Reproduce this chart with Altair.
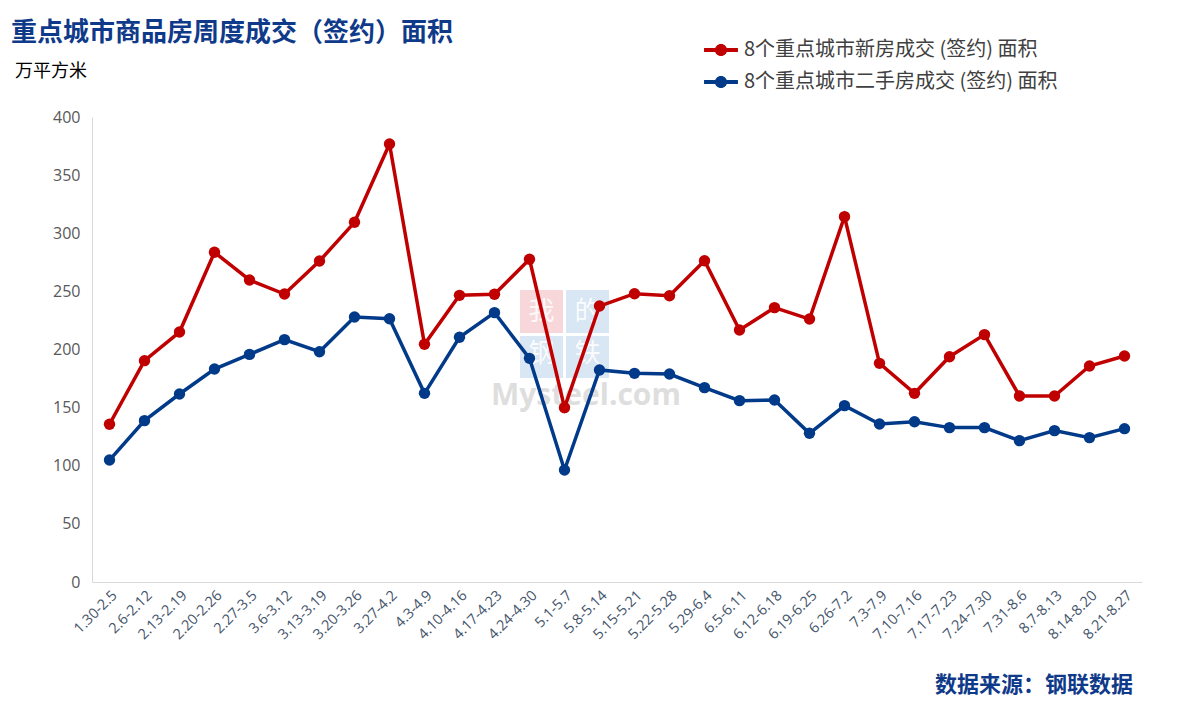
import altair as alt
import pandas as pd

weeks = ["1.30-2.5", "2.6-2.12", "2.13-2.19", "2.20-2.26", "2.27-3.5", "3.6-3.12",
         "3.13-3.19", "3.20-3.26", "3.27-4.2", "4.3-4.9", "4.10-4.16", "4.17-4.23",
         "4.24-4.30", "5.1-5.7", "5.8-5.14", "5.15-5.21", "5.22-5.28", "5.29-6.4",
         "6.5-6.11", "6.12-6.18", "6.19-6.25", "6.26-7.2", "7.3-7.9", "7.10-7.16",
         "7.17-7.23", "7.24-7.30", "7.31-8.6", "8.7-8.13", "8.14-8.20", "8.21-8.27"]

new_home = [135.7, 190.4, 215, 283.6, 259.8, 247.7, 276.1, 309.4, 376.8, 204.5,
            246.6, 247.5, 277.6, 150, 237.4, 248, 246.3, 276.4, 216.8, 236,
            226.2, 314.3, 188.1, 162.3, 193.8, 212.8, 160, 160, 185.8, 194.4]

second_home = [104.9, 138.8, 161.7, 183.2, 195.8, 208.5, 198.1, 228, 226.5, 162.3,
               210.5, 231.7, 192.4, 96.3, 182.4, 179.5, 178.9, 167.2, 156, 156.6,
               127.9, 151.7, 135.9, 137.9, 132.8, 132.8, 121.6, 130.2, 124.2, 131.9]

series_new = "8个重点城市新房成交 (签约) 面积"
series_second = "8个重点城市二手房成交 (签约) 面积"

title_text = "重点城市商品房周度成交（签约）面积"
unit_text = "万平方米"
source_text = "数据来源：钢联数据"
wm_chars = ["我", "的", "钢", "铁"]

df = pd.DataFrame({
    "week": weeks + weeks,
    "value": new_home + second_home,
    "series": [series_new] * len(weeks) + [series_second] * len(weeks),
})

CJK = "Noto Sans CJK SC"
NAVY = "#0F3A8A"

legend_path = ("M-1,-0.12L1,-0.12L1,0.12L-1,0.12Z "
               "M0.36,0A0.36,0.36,0,1,1,-0.36,0A0.36,0.36,0,1,1,0.36,0Z")

color = alt.Color(
    "series:N",
    scale=alt.Scale(domain=[series_new, series_second], range=["#C00000", "#023A8A"]),
    legend=alt.Legend(
        title=None, orient="none", legendX=612, legendY=-84,
        symbolType=legend_path, symbolSize=1150, symbolStrokeWidth=0,
        labelFont=CJK, labelFontSize=20, labelColor="#404040",
        labelLimit=500, rowPadding=5, labelOffset=6,
    ),
)

x = alt.X(
    "week:N", sort=weeks, title=None,
    scale=alt.Scale(type="point", padding=0.5),
    axis=alt.Axis(labelAngle=-45, labelFontSize=14.5, labelColor="#44546A",
                  labelFont="Open Sans", ticks=False, domainColor="#D9D9D9",
                  labelPadding=6),
)
y = alt.Y(
    "value:Q", title=None,
    scale=alt.Scale(domain=[0, 400]),
    axis=alt.Axis(values=list(range(0, 401, 50)), grid=False, ticks=False,
                  labelFontSize=16, labelColor="#595959", labelFont="Open Sans",
                  domainColor="#D9D9D9", labelPadding=12),
)

base = alt.Chart(df).encode(x=x, y=y, color=color)
lines = base.mark_line(strokeWidth=3.5)
points = base.mark_point(filled=True, size=130, opacity=1)

deco = pd.DataFrame({"k": [0]})
title = alt.Chart(deco).mark_text(
    text=title_text, font=CJK, fontSize=26, fontWeight="bold", color=NAVY,
    align="left", baseline="middle",
).encode(x=alt.value(-81), y=alt.value(-84))
unit = alt.Chart(deco).mark_text(
    text=unit_text, font=CJK, fontSize=18, color="#000000",
    align="left", baseline="middle",
).encode(x=alt.value(-77), y=alt.value(-45))
source = alt.Chart(deco).mark_text(
    text=source_text, font=CJK, fontSize=22, fontWeight="bold", color=NAVY,
    align="right", baseline="middle",
).encode(x=alt.value(1041), y=alt.value(568))

# faint watermark
wm_red = alt.Chart(deco).mark_rect(color="#F4C6CA", opacity=0.7).encode(
    x=alt.value(428), x2=alt.value(471), y=alt.value(173), y2=alt.value(216))
wm_b1 = alt.Chart(deco).mark_rect(color="#C9DBEE", opacity=0.7).encode(
    x=alt.value(474), x2=alt.value(517), y=alt.value(173), y2=alt.value(216))
wm_b2 = alt.Chart(deco).mark_rect(color="#C9DBEE", opacity=0.7).encode(
    x=alt.value(428), x2=alt.value(471), y=alt.value(219), y2=alt.value(261))
wm_b3 = alt.Chart(deco).mark_rect(color="#C9DBEE", opacity=0.7).encode(
    x=alt.value(474), x2=alt.value(517), y=alt.value(219), y2=alt.value(261))
wm_t = [
    alt.Chart(deco).mark_text(text=c, font=CJK, fontSize=26, color="#FFFFFF",
                              opacity=0.85, align="center", baseline="middle")
    .encode(x=alt.value(px), y=alt.value(py))
    for c, px, py in zip(wm_chars, [449.5, 495.5, 449.5, 495.5], [194.5, 194.5, 237, 237])
]
watermark = alt.Chart(deco).mark_text(
    text="Mysteel.com", font="Open Sans", fontSize=30, fontWeight="bold",
    color="#BFBFBF", opacity=0.5, align="left", baseline="middle",
).encode(x=alt.value(399), y=alt.value(279))

chart = alt.layer(wm_red, wm_b1, wm_b2, wm_b3, *wm_t, watermark,
                  lines, points, title, unit, source).properties(
    width=1050, height=465,
    autosize=alt.AutoSizeParams(type="none"),
    padding={"left": 84, "top": 109, "right": 31, "bottom": 124},
).configure_view(stroke=None)

chart.save("out.html", embed_options={"renderer": "svg", "actions": False})
